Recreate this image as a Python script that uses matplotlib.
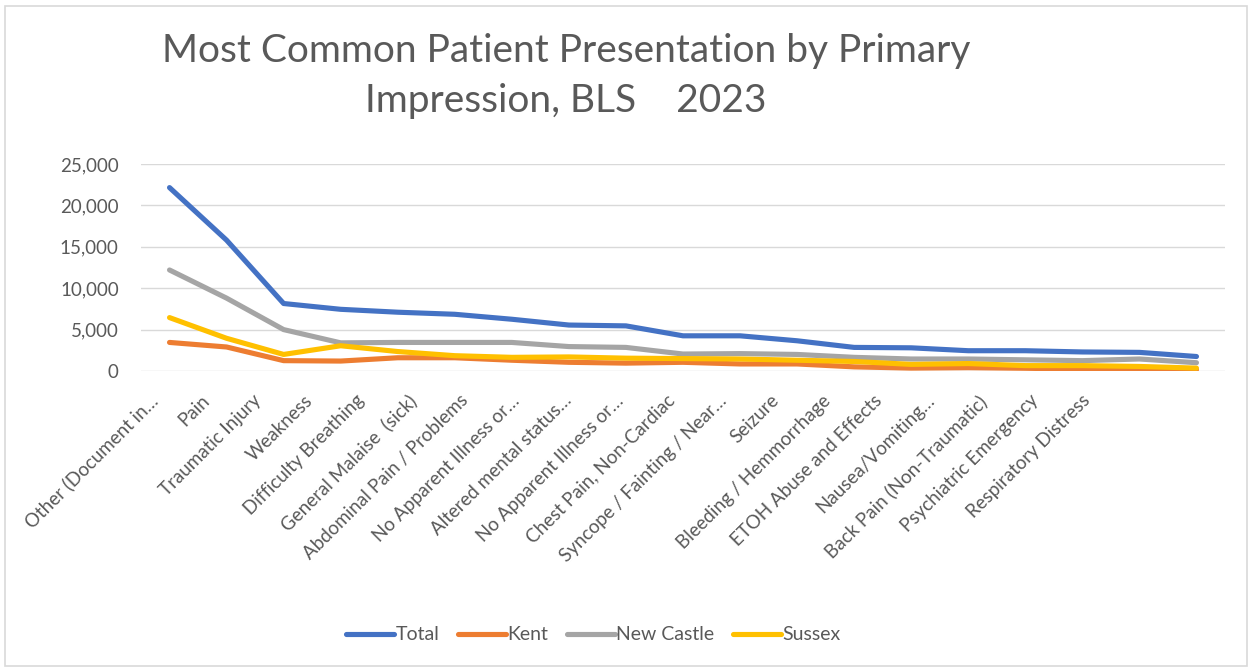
import numpy as np
import matplotlib.pyplot as plt
from matplotlib.patches import Rectangle
from matplotlib.ticker import FuncFormatter

categories = [
    "Other (Document in…", "Pain", "Traumatic Injury", "Weakness",
    "Difficulty Breathing", "General Malaise  (sick)", "Abdominal Pain / Problems",
    "No Apparent Illness or…", "Altered mental status…", "No Apparent Illness or…",
    "Chest Pain, Non-Cardiac", "Syncope / Fainting / Near…", "Seizure",
    "Bleeding / Hemmorrhage", "ETOH Abuse and Effects", "Nausea/Vomiting…",
    "Back Pain (Non-Traumatic)", "Psychiatric Emergency", "Respiratory Distress",
]
total = [22150, 15800, 8150, 7450, 7100, 6850, 6250, 5550, 5450, 4250,
         4250, 3650, 2850, 2800, 2450, 2450, 2300, 2250, 1750]
kent = [3450, 2900, 1250, 1200, 1600, 1600, 1300, 1050, 950, 1050,
        850, 850, 500, 350, 400, 330, 220, 150, 150]
new_castle = [12200, 8800, 5000, 3400, 3450, 3450, 3450, 2950, 2850, 2050,
              2100, 2000, 1650, 1450, 1450, 1350, 1250, 1450, 1000]
sussex = [6450, 3950, 2000, 3050, 2350, 1850, 1650, 1700, 1550, 1500,
          1450, 1300, 1150, 800, 900, 650, 650, 550, 350]

series = [("Total", total, "#4472C4"), ("Kent", kent, "#ED7D31"),
          ("New Castle", new_castle, "#A5A5A5"), ("Sussex", sussex, "#FFC000")]

plt.rcParams["font.family"] = ["Lato", "DejaVu Sans"]
txt = "#595959"

fig = plt.figure(figsize=(12.52, 6.70), dpi=100)
fig.patches.append(Rectangle((5 / 1252, 4 / 670), 1242 / 1252, 660 / 670,
                             transform=fig.transFigure, fill=False,
                             edgecolor="#D9D9D9", linewidth=1.2))

ax = fig.add_axes([141 / 1252, 1 - 371 / 670, 1084 / 1252, 207 / 670])
x = np.arange(len(categories))
for name, vals, col in series:
    ax.plot(x, vals, color=col, linewidth=3.7, label=name,
            solid_capstyle="round", solid_joinstyle="round")

ax.set_xlim(-0.5, len(categories) - 0.5)
ax.set_ylim(0, 25000)
ax.set_yticks(range(0, 25001, 5000))
ax.yaxis.set_major_formatter(FuncFormatter(lambda v, p: f"{int(v):,}"))
ax.grid(axis="y", color="#D9D9D9", linewidth=1.0)
ax.set_axisbelow(True)
for s in ax.spines.values():
    s.set_visible(False)

# labels sit a little tighter than the categories in the original
label_pos = x * 0.908 - 0.37
ax.set_xticks(label_pos)
ax.set_xticklabels(categories)
ax.tick_params(axis="x", length=0, pad=15, labelsize=13.5, labelcolor=txt)
ax.tick_params(axis="y", length=0, pad=16, labelsize=13.5, labelcolor=txt)
plt.setp(ax.get_xticklabels(), rotation=45, ha="right", va="top",
         rotation_mode="anchor")

fig.text(566 / 1252, 1 - 62 / 670, "Most Common Patient Presentation by Primary",
         ha="center", va="baseline", fontsize=28, color=txt)
fig.text(566 / 1252, 1 - 112 / 670, "Impression, BLS    2023",
         ha="center", va="baseline", fontsize=28, color=txt)

leg = fig.legend(loc="center", bbox_to_anchor=(0.474, 1 - 635 / 670), ncol=4,
                 frameon=False, fontsize=14, handlelength=2.45,
                 handletextpad=0.1, columnspacing=0.95, labelcolor=txt)

fig.savefig("out.png", dpi=100)
